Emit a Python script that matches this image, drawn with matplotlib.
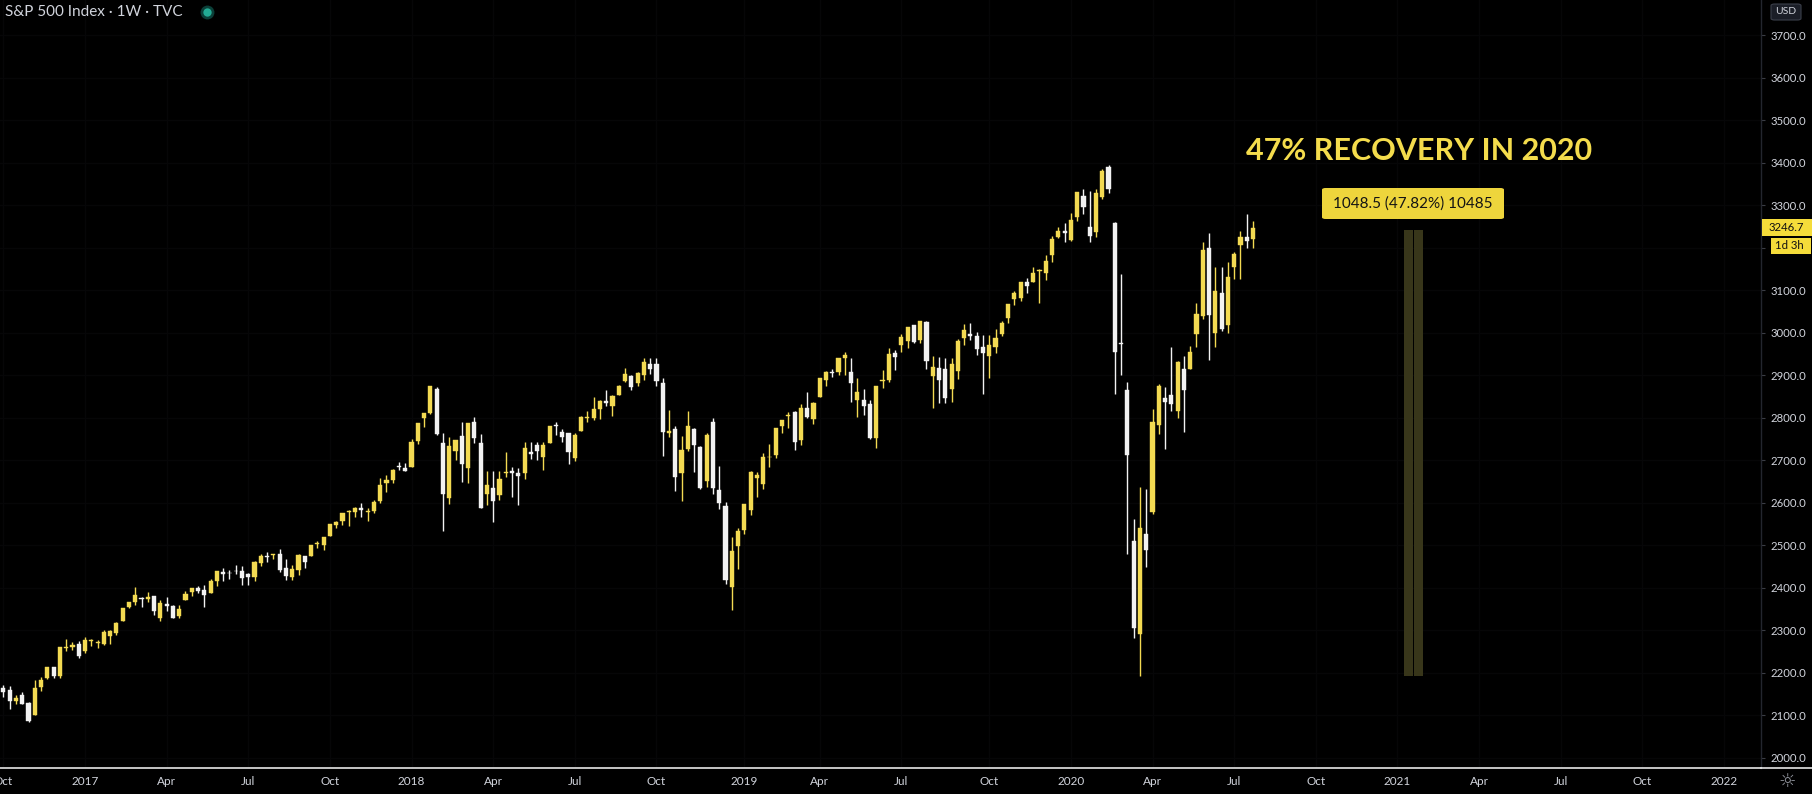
import numpy as np
import pandas as pd
import matplotlib
matplotlib.use("Agg")
import matplotlib.pyplot as plt
from matplotlib.patches import Rectangle, FancyBboxPatch
from matplotlib.lines import Line2D

## S&P 500 weekly candles (TVC), week of 2016-10-03 .. week of 2020-07-27
start_week = "2016-10-03"

opens = [
    2164, 2160, 2132, 2148, 2129, 2101, 2165, 2186, 2213, 2191, 2258, 2259, 2266,
    2251, 2274, 2270, 2268, 2286, 2294, 2322, 2355, 2367, 2376, 2372, 2379, 2329,
    2362, 2357, 2333, 2370, 2389, 2400, 2393, 2388, 2415, 2437, 2434, 2440, 2440,
    2431, 2424, 2458, 2473, 2476, 2478, 2446, 2425, 2442, 2474, 2474, 2502, 2500,
    2522, 2547, 2556, 2578, 2577, 2588, 2578, 2580, 2603, 2645, 2653, 2685, 2682,
    2684, 2745, 2798, 2810, 2867, 2741, 2611, 2722, 2757, 2682, 2790, 2741, 2619,
    2633, 2618, 2670, 2675, 2669, 2670, 2718, 2735, 2706, 2741, 2781, 2765, 2763,
    2705, 2769, 2798, 2800, 2820, 2840, 2828, 2853, 2886, 2897, 2881, 2899, 2925,
    2926, 2882, 2763, 2774, 2670, 2727, 2773, 2731, 2650, 2790, 2630, 2591, 2401,
    2498, 2535, 2582, 2657, 2644, 2706, 2712, 2780, 2804, 2814, 2747, 2823, 2797,
    2848, 2889, 2908, 2907, 2941, 2908, 2841, 2842, 2831, 2752, 2886, 2889, 2951,
    2971, 2980, 3017, 2982, 3024, 2898, 2916, 2913, 2867, 2910, 2988, 2996, 2991,
    2967, 2945, 2966, 2996, 3034, 3078, 3081, 3118, 3118, 3144, 3141, 3183, 3224,
    3240, 3218, 3271, 3321, 3248, 3236, 3318, 3389, 3257, 2975, 2864, 2509, 2290,
    2526, 2578, 2782, 2846, 2854, 2815, 2915, 2913, 2997, 3038, 3199, 3000, 3094,
    3018, 3155, 3205, 3224, 3219,
]
highs = [
    2170, 2169, 2148, 2154, 2131, 2182, 2189, 2214, 2214, 2260, 2278, 2272, 2273,
    2283, 2279, 2277, 2301, 2299, 2319, 2351, 2367, 2401, 2378, 2390, 2381, 2370,
    2378, 2360, 2358, 2392, 2399, 2404, 2406, 2419, 2440, 2446, 2441, 2454, 2451,
    2433, 2463, 2478, 2484, 2480, 2490, 2466, 2453, 2480, 2475, 2500, 2509, 2520,
    2550, 2556, 2575, 2583, 2589, 2598, 2586, 2605, 2658, 2665, 2680, 2695, 2692,
    2749, 2787, 2811, 2873, 2871, 2764, 2754, 2748, 2790, 2787, 2801, 2762, 2675,
    2673, 2675, 2718, 2683, 2682, 2742, 2743, 2742, 2742, 2779, 2790, 2774, 2764,
    2764, 2804, 2816, 2849, 2841, 2864, 2853, 2877, 2916, 2899, 2906, 2941, 2940,
    2940, 2894, 2817, 2779, 2756, 2816, 2775, 2733, 2763, 2800, 2686, 2601, 2520,
    2539, 2597, 2675, 2671, 2716, 2738, 2775, 2793, 2814, 2816, 2831, 2860, 2837,
    2893, 2910, 2915, 2940, 2954, 2939, 2892, 2868, 2842, 2875, 2911, 2964, 2959,
    2996, 3014, 3018, 3028, 3027, 2944, 2943, 2939, 2941, 2985, 3021, 3022, 3002,
    2993, 2993, 3008, 3027, 3067, 3098, 3120, 3128, 3154, 3150, 3183, 3226, 3248,
    3258, 3282, 3330, 3338, 3333, 3338, 3385, 3393, 3260, 3137, 2883, 2562, 2637,
    2632, 2819, 2880, 2871, 2965, 2934, 2945, 2969, 3069, 3212, 3233, 3155, 3155,
    3166, 3190, 3238, 3279, 3262,
]
lows = [
    2142, 2115, 2127, 2126, 2084, 2100, 2157, 2184, 2187, 2187, 2250, 2254, 2233,
    2245, 2262, 2258, 2265, 2267, 2289, 2321, 2351, 2358, 2354, 2365, 2336, 2322,
    2345, 2328, 2328, 2370, 2380, 2387, 2353, 2386, 2403, 2415, 2419, 2431, 2406,
    2407, 2416, 2450, 2460, 2466, 2437, 2418, 2417, 2429, 2447, 2474, 2493, 2489,
    2521, 2541, 2547, 2544, 2567, 2567, 2557, 2576, 2600, 2624, 2646, 2677, 2673,
    2683, 2738, 2778, 2808, 2759, 2533, 2597, 2701, 2648, 2647, 2741, 2586, 2594,
    2553, 2606, 2660, 2613, 2595, 2655, 2702, 2701, 2676, 2740, 2760, 2742, 2691,
    2698, 2769, 2790, 2795, 2796, 2827, 2803, 2853, 2883, 2864, 2875, 2889, 2903,
    2874, 2710, 2755, 2628, 2603, 2722, 2671, 2631, 2636, 2621, 2584, 2409, 2347,
    2444, 2525, 2570, 2612, 2631, 2684, 2705, 2764, 2775, 2723, 2735, 2800, 2785,
    2848, 2874, 2896, 2899, 2901, 2836, 2801, 2805, 2750, 2728, 2870, 2883, 2912,
    2953, 2964, 2976, 2976, 2914, 2822, 2834, 2834, 2836, 2891, 2970, 2983, 2946,
    2856, 2892, 2952, 2991, 3023, 3065, 3074, 3092, 3118, 3070, 3123, 3167, 3222,
    3213, 3215, 3263, 3280, 3214, 3224, 3315, 3328, 2855, 2901, 2478, 2281, 2192,
    2448, 2574, 2762, 2727, 2815, 2798, 2767, 2913, 2967, 3032, 2936, 2966, 3004,
    2999, 3127, 3127, 3200, 3198,
]
closes = [
    2154, 2133, 2141, 2126, 2085, 2164, 2182, 2213, 2192, 2260, 2258, 2264, 2239,
    2277, 2275, 2271, 2295, 2297, 2316, 2351, 2367, 2383, 2373, 2378, 2344, 2363,
    2356, 2329, 2349, 2384, 2399, 2391, 2382, 2416, 2439, 2432, 2433, 2438, 2423,
    2425, 2459, 2473, 2472, 2477, 2441, 2426, 2443, 2477, 2461, 2500, 2502, 2519,
    2549, 2553, 2575, 2581, 2588, 2582, 2579, 2602, 2642, 2652, 2676, 2683, 2674,
    2743, 2786, 2810, 2873, 2762, 2620, 2732, 2747, 2691, 2787, 2752, 2588, 2641,
    2604, 2656, 2670, 2670, 2663, 2728, 2713, 2721, 2735, 2779, 2780, 2755, 2718,
    2760, 2801, 2802, 2819, 2840, 2833, 2850, 2875, 2902, 2872, 2905, 2930, 2914,
    2886, 2767, 2768, 2659, 2723, 2781, 2736, 2633, 2760, 2633, 2600, 2417, 2486,
    2532, 2596, 2671, 2665, 2707, 2708, 2776, 2793, 2804, 2743, 2822, 2801, 2834,
    2893, 2907, 2905, 2940, 2946, 2881, 2860, 2826, 2752, 2873, 2887, 2950, 2942,
    2990, 3014, 2977, 3026, 2932, 2919, 2889, 2847, 2926, 2979, 3007, 2992, 2962,
    2952, 2970, 2986, 3023, 3067, 3093, 3120, 3110, 3141, 3146, 3169, 3221, 3240,
    3235, 3265, 3330, 3295, 3226, 3328, 3380, 3338, 2954, 2972, 2711, 2305, 2541,
    2489, 2790, 2875, 2837, 2831, 2930, 2864, 2955, 3044, 3194, 3041, 3098, 3009,
    3130, 3185, 3225, 3216, 3246.7,
]

## price range tool (Mar 2020 low -> top)
range_low = 2191.86
range_high = 3240.36
range_text = "1048.5 (47.82%) 10485"
headline = "47% RECOVERY IN 2020"
last_price = "3246.7"
countdown = "1d 3h"

y_ticks = [2000, 2100, 2200, 2300, 2400, 2500, 2600, 2700, 2800, 2900,
           3000, 3100, 3200, 3300, 3400, 3500, 3600, 3700]

#===================================================================#
W, H = 1812, 794
YEL = "#f3da52"
WHT = "#f2f2f2"
TXT = "#d1d4dc"

def fx(x):
    return x / W

def fy(y):
    return 1 - y / H

fig = plt.figure(figsize=(W / 100, H / 100), dpi=100, facecolor="black")
ax = fig.add_axes([0, 26 / H, 1761 / W, 768 / H])
ax.set_facecolor("black")

n = len(closes)
idx = np.arange(n)
o = np.array(opens, float)
h = np.array(highs, float)
l = np.array(lows, float)
c = np.array(closes, float)
up = c >= o
cols = np.where(up, YEL, WHT)

## wicks + bodies
ax.vlines(idx, l, h, colors=cols, linewidth=1.0, zorder=3)
body_lo = np.minimum(o, c)
body_h = np.maximum(np.abs(c - o), 2.0)
ax.bar(idx, body_h, bottom=body_lo, width=0.66, color=cols, edgecolor=cols,
       linewidth=0.3, zorder=4)

## x ticks: first weekly bar of Jan/Apr/Jul/Oct
weeks = pd.date_range(start_week, "2022-02-01", freq="W-MON")
t0 = pd.Timestamp(start_week)
xt, xl = [], []
seen = set()
for d in weeks:
    key = (d.year, d.month)
    if d.month in (1, 4, 7, 10) and key not in seen:
        seen.add(key)
        xt.append((d - t0).days / 7)
        xl.append(str(d.year) if d.month == 1 else d.strftime("%b"))

ax.set_xlim(-0.54, 279.9)
ax.set_ylim(1975.3, 3782.4)
ax.set_xticks(xt)
ax.set_xticklabels(xl)
ax.set_yticks(y_ticks)
## 3200.0 sits under the countdown badge
ax.set_yticklabels(["" if v == 3200 else f"{v:.1f}" for v in y_ticks])
ax.yaxis.tick_right()
ax.tick_params(axis="x", length=0, pad=6, labelsize=8.5, labelcolor=TXT)
ax.tick_params(axis="y", length=3, width=0.8, color="#3a3d45", pad=4,
               labelsize=8.2, labelcolor=TXT)
for lab in ax.get_xticklabels() + ax.get_yticklabels():
    lab.set_fontfamily("Lato")

ax.grid(True, color="#060607", linewidth=1, zorder=0)
for s in ["top", "left"]:
    ax.spines[s].set_visible(False)
ax.spines["bottom"].set_color("#e6e6e6")
ax.spines["bottom"].set_linewidth(1.2)
ax.spines["right"].set_color("#23262e")
ax.spines["right"].set_linewidth(1)
fig.add_artist(Line2D([fx(1761), 1], [26 / H, 26 / H], color="#e6e6e6", lw=1.2))

## price range tool
r_left, r_right = 223, 226
half = (r_right - r_left) / 2 - 0.08
ax.add_patch(Rectangle((r_left, range_low), half, range_high - range_low,
                       facecolor="#38361a", edgecolor="none", zorder=2))
ax.add_patch(Rectangle((r_right - half, range_low), half, range_high - range_low,
                       facecolor="#38361a", edgecolor="none", zorder=2))

## headline + range label
fig.text(fx(1419), fy(151), headline, color="#f4dc4c", fontsize=22,
         fontweight="bold", family="Lato", ha="center", va="center")
fig.patches.append(FancyBboxPatch((fx(1322), fy(219)), fx(182), 31 / H,
                                  boxstyle="round,pad=0,rounding_size=0.002",
                                  transform=fig.transFigure, facecolor="#eed53c",
                                  edgecolor="none"))
fig.text(fx(1413), fy(203.5), range_text, color="#141414", fontsize=11,
         family="Lato", ha="center", va="center")

## header
fig.text(fx(5), fy(12), "S&P 500 Index · 1W · TVC", color="#d1d4dc",
         fontsize=11, family="Lato", ha="left", va="center")
fig.add_artist(Line2D([fx(207)], [fy(12)], marker="o", markersize=10,
                      markerfacecolor="#0b3f38", markeredgecolor="none"))
fig.add_artist(Line2D([fx(207)], [fy(12)], marker="o", markersize=6,
                      markerfacecolor="#22ab94", markeredgecolor="none"))

## USD box
fig.patches.append(FancyBboxPatch((fx(1771), fy(20)), fx(30), 16 / H,
                                  boxstyle="round,pad=0,rounding_size=0.002",
                                  transform=fig.transFigure, facecolor="#1b1e27",
                                  edgecolor="#3b3f4a", lw=0.8))
fig.text(fx(1786), fy(12), "USD", color="#d1d4dc", fontsize=7.5, family="Lato",
         ha="center", va="center")

## last price + countdown
yp = 35 + (3700 - float(last_price)) * 0.425
fig.patches.append(Rectangle((fx(1762), fy(yp + 8.5)), fx(50), 17 / H,
                             transform=fig.transFigure, facecolor="#f5dc3a",
                             edgecolor="none"))
fig.text(fx(1769), fy(yp), last_price, color="#111111", fontsize=8.2,
         family="Lato", ha="left", va="center")
fig.patches.append(Rectangle((fx(1771), fy(yp + 26)), fx(40), 16 / H,
                             transform=fig.transFigure, facecolor="#f5dc3a",
                             edgecolor="none"))
fig.text(fx(1775), fy(yp + 18), countdown, color="#111111", fontsize=8.2,
         family="Lato", ha="left", va="center")

## settings gear
fig.text(fx(1787), fy(781), "\u263c", color="#9598a1", fontsize=14,
         family="DejaVu Sans", ha="center", va="center")

fig.savefig("out.png", dpi=100, facecolor="black")
